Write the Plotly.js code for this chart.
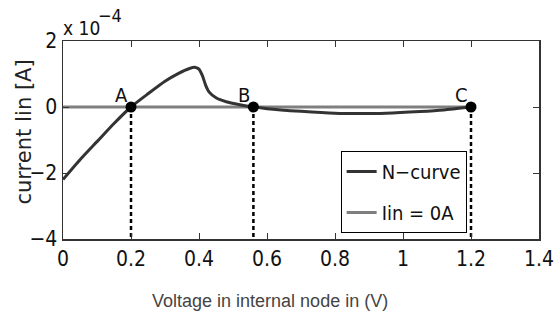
<!DOCTYPE html>
<html><head><meta charset="utf-8">
<script src="https://cdn.plot.ly/plotly-3.0.1.min.js"></script>
<style>html,body{margin:0;padding:0;background:#fff}#c{width:555px;height:324px}</style>
</head><body><div id="c"></div>
<script>
// N-curve (current in units of 1e-4 A)
const curveX = [0, 0.05, 0.1, 0.15, 0.2, 0.25, 0.3, 0.34, 0.37, 0.39, 0.40, 0.41, 0.42, 0.43, 0.45, 0.48, 0.52, 0.56, 0.6, 0.7, 0.8, 0.86, 0.95, 1.05, 1.12, 1.2];
const curveY = [-2.2, -1.6, -1.05, -0.5, 0, 0.4, 0.78, 1.02, 1.16, 1.2, 1.15, 0.95, 0.65, 0.45, 0.28, 0.16, 0.07, 0, -0.05, -0.13, -0.19, -0.2, -0.19, -0.14, -0.09, 0];
// Iin = 0 line
const zeroX = [0, 1.2];
const zeroY = [0, 0];
// Crossing points
const ptLabels = ['A', 'B', 'C'];
const ptX = [0.2, 0.56, 1.2];
const ptY = [0, 0, 0];
const yBottom = -4;
const xTicks = [0, 0.2, 0.4, 0.6, 0.8, 1, 1.2, 1.4];
const xTickText = ['0', '0.2', '0.4', '0.6', '0.8', '1', '1.2', '1.4'];
const yTicks = [-4, -2, 0, 2];
const yTickText = ['\u22124', '\u22122', '0', '2'];

const narrow = 'DejaVu Sans Condensed';
const traces = [];
ptX.forEach((x) => {
  traces.push({x: [x, x], y: [0, yBottom], mode: 'lines', line: {color: '#000', width: 2.5, dash: '4px,3px'}, showlegend: false, hoverinfo: 'skip'});
});
traces.push({x: zeroX, y: zeroY, mode: 'lines', name: 'Iin = 0A', line: {color: '#7f7f7f', width: 3}, legendgroup: 'b', legendrank: 2});
traces.push({x: curveX, y: curveY, mode: 'lines', name: 'N\u2212curve', line: {color: '#333333', width: 3, shape: 'spline', smoothing: 0.6}, legendgroup: 'a', legendrank: 1});
traces.push({x: ptX, y: ptY, mode: 'markers', marker: {color: '#000', size: 11}, showlegend: false});

const annotations = ptLabels.map((t, i) => ({x: ptX[i], y: ptY[i], xref: 'x', yref: 'y', text: t, showarrow: false, xanchor: 'right', yanchor: 'bottom', xshift: -1, yshift: -2, font: {family: narrow, size: 20, color: '#111'}}));
annotations.push({x: 0, y: 1, xref: 'paper', yref: 'paper', xanchor: 'left', yanchor: 'bottom', xshift: -2, yshift: 0, text: 'x 10', showarrow: false, font: {family: narrow, size: 19, color: '#111'}});
annotations.push({x: 0, y: 1, xref: 'paper', yref: 'paper', xanchor: 'left', yanchor: 'bottom', xshift: 33, yshift: 13, text: '\u22124', showarrow: false, font: {family: narrow, size: 18, color: '#111'}});
annotations.push({x: 0.434, y: 0, xref: 'paper', yref: 'paper', xanchor: 'center', yanchor: 'top', yshift: -50, text: 'Voltage in internal node in (V)', showarrow: false, font: {family: 'Liberation Sans, Arial, sans-serif', size: 18, color: '#444'}});
annotations.push({x: -0.081, y: 0.54, xref: 'paper', yref: 'paper', xanchor: 'center', yanchor: 'middle', textangle: -90, text: 'current Iin [A]', showarrow: false, font: {family: 'DejaVu Sans, sans-serif', size: 21, color: '#222'}});

const layout = {
  width: 555, height: 324,
  margin: {l: 63, r: 16, t: 41, b: 85},
  paper_bgcolor: '#fff', plot_bgcolor: '#fff',
  showlegend: true,
  legend: {x: 0.848, y: 0.444, xanchor: 'right', yanchor: 'top', bgcolor: '#fff', bordercolor: '#000', borderwidth: 1,
    font: {family: narrow, size: 20, color: '#111'}, traceorder: 'grouped', tracegroupgap: 12, itemwidth: 30},
  xaxis: {range: [0, 1.4], tickvals: xTicks, ticktext: xTickText, ticks: 'inside', ticklen: 6, tickcolor: '#333',
    showline: true, linecolor: '#333', linewidth: 1.5, mirror: 'ticks', showgrid: false, zeroline: false,
    ticklabeloverflow: 'allow',
    tickfont: {family: narrow, size: 21, color: '#111'}},
  yaxis: {range: [-4, 2], tickvals: yTicks, ticktext: yTickText, ticks: 'inside', ticklen: 6, tickcolor: '#333',
    showline: true, linecolor: '#333', linewidth: 1.5, mirror: 'ticks', showgrid: false, zeroline: false,
    tickfont: {family: narrow, size: 21, color: '#111'}},
  annotations: annotations
};
Plotly.newPlot('c', traces, layout, {staticPlot: true});
</script></body></html>
